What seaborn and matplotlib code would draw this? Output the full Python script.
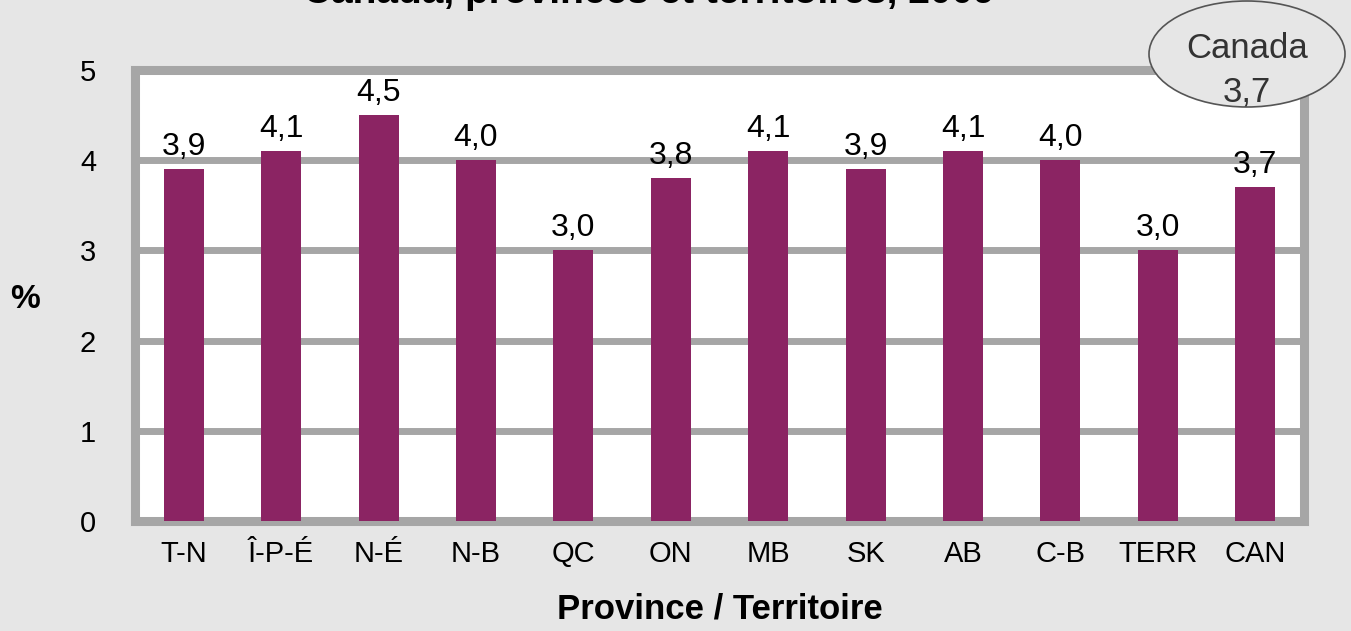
import numpy as np
import matplotlib.pyplot as plt
import pandas as pnd
import seaborn as sea
from matplotlib.patches import Ellipse

# Data
provinces = ['T-N', 'Î-P-É', 'N-É', 'N-B', 'QC', 'ON', 'MB', 'SK', 'AB', 'C-B', 'TERR', 'CAN']
valeurs = [3.9, 4.1, 4.5, 4.0, 3.0, 3.8, 4.1, 3.9, 4.1, 4.0, 3.0, 3.7]
y_ticks = [0, 1, 2, 3, 4, 5]
canada = 3.7

df = pnd.DataFrame({'Province': provinces, 'Valeur': valeurs})

sea.set_style("white")
plt.rcParams['font.family'] = ['Liberation Sans', 'DejaVu Sans']
plt.rcParams['text.color'] = 'black'

bg = '#E6E6E6'
gris = '#A6A6A6'
bar_col = '#8B2463'

fig = plt.figure(figsize=(13.51, 6.31), dpi=100, facecolor=bg)
ax = fig.add_axes([135 / 1351, 1 - 521 / 631, (1304 - 135) / 1351, (521 - 70) / 631])
ax.set_facecolor('white')

sea.barplot(data=df, x='Province', y='Valeur', color=bar_col, width=0.41,
            saturation=1, ax=ax, zorder=3, edgecolor=bar_col, linewidth=0)

ax.set_ylim(0, 5)
ax.set_yticks(y_ticks)
ax.set_yticklabels([str(t) for t in y_ticks])
ax.set_xlim(-0.5, len(provinces) - 0.5)

# thick grey grid lines and frame
for t in y_ticks[1:-1]:
    ax.axhline(t, color=gris, lw=5, zorder=1)
for s in ax.spines.values():
    s.set_color(gris)
    s.set_linewidth(6.5)
    s.set_visible(True)

ax.tick_params(axis='both', length=0, labelsize=21, colors='black')
ax.tick_params(axis='y', pad=28)
ax.tick_params(axis='x', pad=14)

for i, v in enumerate(valeurs):
    ax.text(i, v + 0.08, f'{v:.1f}'.replace('.', ','), ha='center', va='bottom',
            fontsize=23, zorder=4)

ax.set_xlabel('Province / Territoire', fontsize=25, fontweight='bold', labelpad=17,
              color='black')
ax.set_ylabel('')
fig.text(25 / 1351, 1 - 300 / 631, '%', fontsize=24, fontweight='bold', ha='center', va='center')

# title, cut off at the top edge like in the original
fig.text(0.48, 1 - 3 / 631, 'Canada, provinces et territoires, 2009', ha='center',
         va='baseline', fontsize=28, fontweight='bold')

# Canada callout
ell = Ellipse((1247 / 1351, 1 - 54 / 631), 196 / 1351, 106 / 631, transform=fig.transFigure,
              facecolor=bg, edgecolor='#555555', lw=1.2, zorder=5)
fig.add_artist(ell)
fig.text(1247 / 1351, 1 - 48 / 631, 'Canada', ha='center', va='center', fontsize=25,
         color='#333333', zorder=6)
fig.text(1247 / 1351, 1 - 92 / 631, f'{canada:.1f}'.replace('.', ','), ha='center',
         va='center', fontsize=25, color='#333333', zorder=6)

plt.savefig('out.png', dpi=100, facecolor=bg)
